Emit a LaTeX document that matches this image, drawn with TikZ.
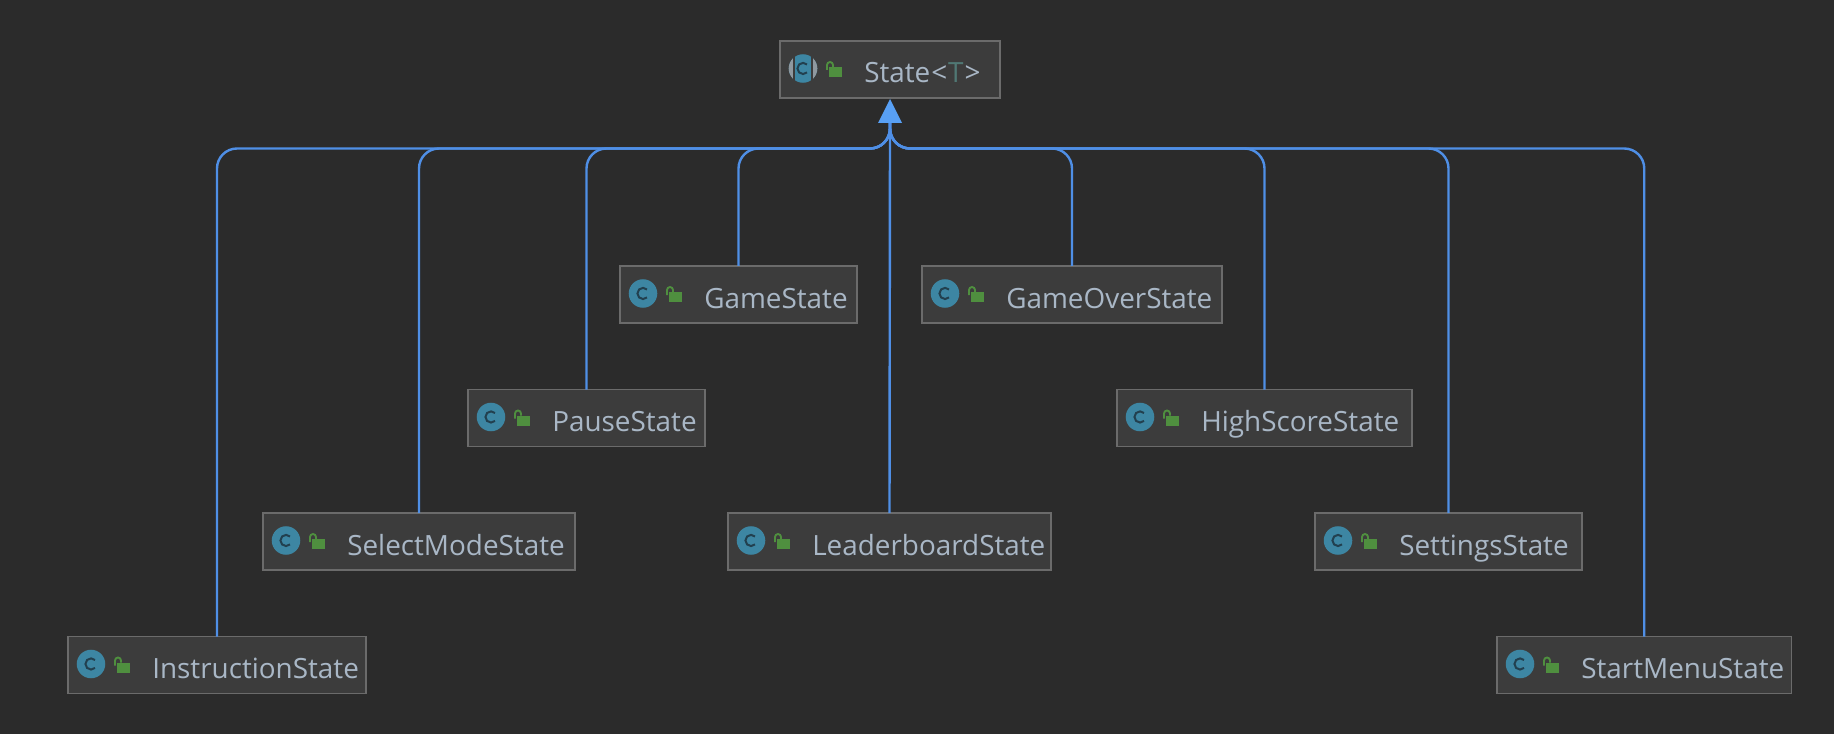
\documentclass[tikz,border=0pt]{standalone}
\usepackage{fontspec}
\usetikzlibrary{calc}
\setmainfont{Open Sans}
\definecolor{bgc}{HTML}{2B2B2B}
\definecolor{boxfill}{HTML}{3C3C3C}
\definecolor{boxline}{HTML}{6B6B6B}
\definecolor{edgec}{HTML}{4F8FE6}
\definecolor{tipc}{HTML}{58A0F5}
\definecolor{txt}{HTML}{A9B7C6}
\definecolor{iconc}{HTML}{3D86A3}
\definecolor{iconl}{HTML}{22404F}
\definecolor{iconside}{HTML}{8F989F}
\definecolor{lockc}{HTML}{4F8F3F}
\definecolor{tparam}{HTML}{507874}
\tikzset{
 x=0.75pt,y=-0.75pt,
 cls/.style={draw=boxline,fill=boxfill,line width=1.1pt,minimum height=42.75pt,inner sep=0pt,anchor=north west,outer sep=0pt},
 lbl/.style={text=txt,font=\fontsize{20.9}{24}\selectfont,anchor=base west,inner sep=0pt},
 edge/.style={draw=edgec,line width=1.8pt,rounded corners=15pt},
}
\newcommand{\classbox}[5]{% name, left, top, right, text
 \node[cls,minimum width={(#4-#2)*0.75pt}] (#1) at (#2,#3) {};
 \fill[iconc] (#2+23,#3+27.5) circle (10.7pt);
 \draw[iconl,line width=1.5pt] (#2+27,#3+23.5) arc (45:315:4.2pt);
 \draw[lockc,line width=1.4pt] (#2+47,#3+29) -- (#2+47,#3+24) arc (180:0:2.25pt) -- (#2+53,#3+26);
 \fill[lockc] (#2+49,#3+26) rectangle (#2+62,#3+36);
 \node[lbl] (#1t) at (#2+84,#3+42) {#5};
}
\begin{document}
\begin{tikzpicture}
\useasboundingbox (0,0) rectangle (1834,734);
\fill[bgc] (0,0) rectangle (1834,734);
\coordinate (bus) at (890,148.5);
\classbox{state}{780}{41}{1000}{State\kern0.7pt<\kern0.7pt{\color{tparam}T}\kern0.7pt>}
\begin{scope}
 \clip (780,41) rectangle (793,97);
 \fill[iconside] (803,68.5) circle (10.7pt);
\end{scope}
\begin{scope}
 \clip (813,41) rectangle (840,97);
 \fill[iconside] (803,68.5) circle (10.7pt);
\end{scope}
\fill[boxfill] (793,54) rectangle (795,83);
\fill[boxfill] (811,54) rectangle (813,83);
\classbox{game}{620}{266}{857}{GameState}
\classbox{over}{922}{266}{1222}{GameOverState}
\classbox{pause}{468}{389.5}{705}{PauseState}
\classbox{high}{1117}{389.5}{1412}{HighScoreState}
\classbox{mode}{263}{513}{575}{SelectModeState}
\classbox{lead}{728}{513}{1051}{LeaderboardState}
\classbox{sett}{1315}{513}{1582}{SettingsState}
\classbox{inst}{68}{636.5}{366}{InstructionState}
\classbox{menu}{1497}{636.5}{1791.5}{StartMenuState}
\coordinate (tipbase) at ($(state.south)+(0,24)$);
\draw[edge] (inst.north) |- (bus) -- (tipbase);
\draw[edge] (mode.north) |- (bus) -- (tipbase);
\draw[edge] (pause.north) |- (bus) -- (tipbase);
\draw[edge] (game.north) |- (bus) -- (tipbase);
\draw[edge] (over.north) |- (bus) -- (tipbase);
\draw[edge] (high.north) |- (bus) -- (tipbase);
\draw[edge] (sett.north) |- (bus) -- (tipbase);
\draw[edge] (menu.north) |- (bus) -- (tipbase);
\draw[edge] (lead.north) -- (tipbase);
\fill[tipc] (state.south) ++(0,1) -- ++(12,24) -- ++(-24,0) -- cycle;
\end{tikzpicture}
\end{document}
